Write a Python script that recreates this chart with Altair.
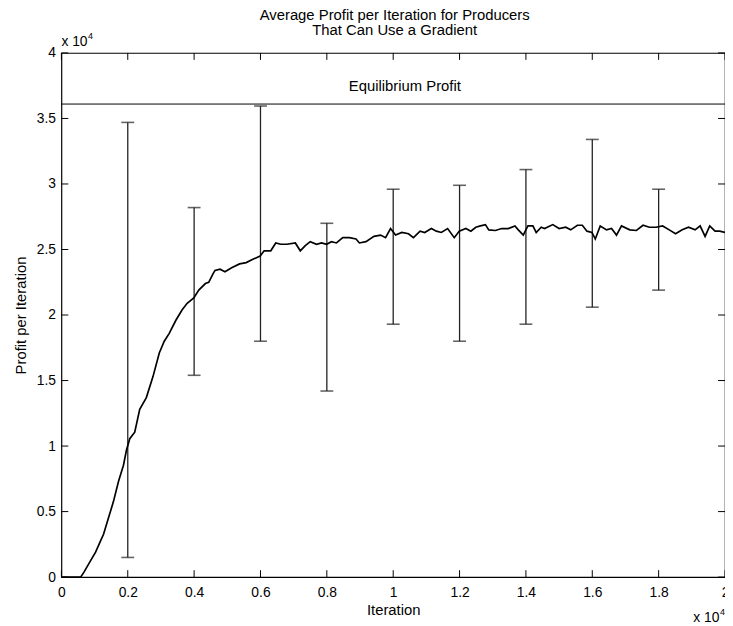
import altair as alt
import pandas as pd

# ---- data (iterations, profit) ----
line_iter = [0, 580, 680, 880, 1030, 1180, 1270, 1420, 1570, 1720, 1870, 1960, 2060, 2210, 2360, 2560,
             2760, 2950, 3100, 3250, 3450, 3640, 3790, 3990, 4140, 4340, 4440, 4580, 4630, 4780, 4930,
             5130, 5370, 5570, 5770, 5990, 6110, 6310, 6460, 6610, 6800, 7050, 7200, 7350, 7500, 7690,
             7840, 7990, 8140, 8290, 8480, 8680, 8880, 8980, 9180, 9420, 9620, 9770, 9920, 10070, 10260,
             10460, 10610, 10810, 10950, 11150, 11300, 11450, 11640, 11840, 11990, 12190, 12340, 12490,
             12630, 12780, 12880, 13080, 13270, 13470, 13670, 13770, 13920, 14060, 14210, 14310, 14460,
             14560, 14810, 15000, 15200, 15350, 15550, 15700, 15840, 15990, 16090, 16240, 16430, 16580,
             16730, 16880, 17130, 17330, 17530, 17720, 17920, 18120, 18320, 18510, 18710, 18900, 19100,
             19250, 19400, 19540, 19700, 19840, 20000]
line_profit = [0, 0, 380, 1260, 1900, 2770, 3270, 4520, 5780, 7300, 8540, 9680, 10560, 11060, 12800, 13700,
               15300, 17100, 18000, 18600, 19600, 20400, 20900, 21300, 21900, 22400, 22500, 23200, 23400,
               23500, 23300, 23600, 23900, 24000, 24250, 24500, 24900, 24900, 25500, 25400, 25400, 25500,
               24900, 25300, 25600, 25400, 25500, 25400, 25600, 25500, 25900, 25900, 25800, 25500, 25600,
               26000, 26100, 25900, 26600, 26100, 26300, 26200, 25900, 26400, 26300, 26600, 26400, 26300,
               26600, 25900, 26400, 26600, 26400, 26700, 26800, 26900, 26500, 26450, 26600, 26600, 26800,
               26500, 26100, 26800, 26800, 26300, 26700, 26600, 26900, 26600, 26700, 26500, 26850, 26850,
               26400, 26300, 25800, 26800, 26500, 26600, 26100, 26800, 26500, 26450, 26850, 26700, 26700,
               26800, 26500, 26200, 26500, 26700, 26500, 26800, 26000, 26800, 26400, 26400, 26300]

err_iter = [2000, 4000, 6000, 8000, 10000, 12000, 14000, 16000, 18000]
err_low = [1500, 15400, 18000, 14200, 19300, 18000, 19300, 20600, 21900]
err_high = [34700, 28200, 35950, 27000, 29600, 29900, 31100, 33400, 29600]

equilibrium = [36100]
equilibrium_label = ["Equilibrium Profit"]

x_ticks = [0, 2000, 4000, 6000, 8000, 10000, 12000, 14000, 16000, 18000, 20000]
y_ticks = [0, 5000, 10000, 15000, 20000, 25000, 30000, 35000, 40000]

title_lines = ["Average Profit per Iteration for Producers", "That Can Use a Gradient"]

W, H = 671, 530
FONT = "Liberation Sans"
TICK = 7
FS_LAB = 14
FS_TXT = 15

line_df = pd.DataFrame({"iter": line_iter, "profit": line_profit})
err_df = pd.DataFrame({"iter": err_iter, "low": err_low, "high": err_high})
eq_df = pd.DataFrame({"profit": equilibrium, "label": equilibrium_label, "iter": [10350], "ty": [37450]})
xt_df = pd.DataFrame({"iter": x_ticks})
yt_df = pd.DataFrame({"profit": y_ticks})
title_df = pd.DataFrame({"t": title_lines, "row": [0, 1]})

xscale = alt.Scale(domain=[0, 20000], nice=False, zero=False)
yscale = alt.Scale(domain=[0, 40000], nice=False, zero=False)
xaxis = alt.Axis(values=x_ticks, labelExpr="datum.value / 10000", ticks=False, domain=False,
                 grid=False, labelPadding=9, title="Iteration", titlePadding=3, labelFlush=False,
                 labelOverlap=False, labelFont=FONT, labelFontSize=FS_LAB, labelColor="black",
                 titleFont=FONT, titleFontSize=FS_TXT, titleFontWeight="normal", titleColor="black")
yaxis = alt.Axis(values=y_ticks, labelExpr="datum.value / 10000", ticks=False, domain=False,
                 grid=False, labelPadding=6, title="Profit per Iteration", titlePadding=8,
                 labelOverlap=False, labelFont=FONT, labelFontSize=FS_LAB, labelColor="black",
                 titleFont=FONT, titleFontSize=FS_TXT, titleFontWeight="normal", titleColor="black")


def X(field):
    return alt.X(f"{field}:Q", scale=xscale, axis=xaxis)


def Y(field):
    return alt.Y(f"{field}:Q", scale=yscale, axis=yaxis)


line = alt.Chart(line_df).mark_line(color="black", strokeWidth=1.7).encode(x=X("iter"), y=Y("profit"))

bars = alt.Chart(err_df).mark_rule(color="#222222", strokeWidth=1.3).encode(
    x=X("iter"), y=Y("low"), y2="high")
caps_lo = alt.Chart(err_df).mark_tick(color="#222222", orient="horizontal", size=13, thickness=1.6).encode(
    x=X("iter"), y=Y("low"))
caps_hi = alt.Chart(err_df).mark_tick(color="#222222", orient="horizontal", size=13, thickness=1.6).encode(
    x=X("iter"), y=Y("high"))

eq_rule = alt.Chart(eq_df).mark_rule(color="black", strokeWidth=1).encode(y=Y("profit"))
eq_text = alt.Chart(eq_df).mark_text(font=FONT, fontSize=FS_TXT, color="black", align="center",
                                     baseline="middle").encode(x=X("iter"), y=Y("ty"), text="label:N")

tick_style = dict(color="black", strokeWidth=1)
top_ticks = alt.Chart(xt_df).mark_rule(**tick_style).encode(x=X("iter"), y=alt.value(0), y2=alt.value(TICK))
bot_ticks = alt.Chart(xt_df).mark_rule(**tick_style).encode(x=X("iter"), y=alt.value(H), y2=alt.value(H - TICK))
left_ticks = alt.Chart(yt_df).mark_rule(**tick_style).encode(y=Y("profit"), x=alt.value(0), x2=alt.value(TICK))
right_ticks = alt.Chart(yt_df).mark_rule(**tick_style).encode(y=Y("profit"), x=alt.value(W), x2=alt.value(W - TICK))

title0 = alt.Chart(title_df).transform_filter("datum.row == 0").mark_text(
    font=FONT, fontSize=FS_TXT, color="black", align="center", baseline="middle").encode(
    x=alt.value(337), y=alt.value(-38), text="t:N")
title1 = alt.Chart(title_df).transform_filter("datum.row == 1").mark_text(
    font=FONT, fontSize=FS_TXT, color="black", align="center", baseline="middle").encode(
    x=alt.value(337), y=alt.value(-23), text="t:N")

exp_style = dict(font=FONT, color="black", align="left", baseline="alphabetic")
tl_main = alt.Chart(eq_df).mark_text(fontSize=FS_LAB, **exp_style).encode(
    x=alt.value(0), y=alt.value(-7), text=alt.value("x 10"))
tl_sup = alt.Chart(eq_df).mark_text(fontSize=9, **exp_style).encode(
    x=alt.value(27), y=alt.value(-14), text=alt.value("4"))
br_main = alt.Chart(eq_df).mark_text(fontSize=FS_LAB, **exp_style).encode(
    x=alt.value(639), y=alt.value(575), text=alt.value("x 10"))
br_sup = alt.Chart(eq_df).mark_text(fontSize=9, **exp_style).encode(
    x=alt.value(666), y=alt.value(568), text=alt.value("4"))

chart = alt.layer(
    eq_rule, bars, caps_lo, caps_hi, line, eq_text,
    top_ticks, bot_ticks, left_ticks, right_ticks,
    title0, title1, tl_main, tl_sup, br_main, br_sup,
).properties(
    width=W, height=H,
    background="white",
    autosize=alt.AutoSizeParams(type="none"),
    padding={"left": 54, "top": 42, "right": 0, "bottom": 46},
).configure_view(
    stroke="black", strokeWidth=1.2
)

chart.save("out.html", embed_options={"renderer": "svg", "actions": False})
